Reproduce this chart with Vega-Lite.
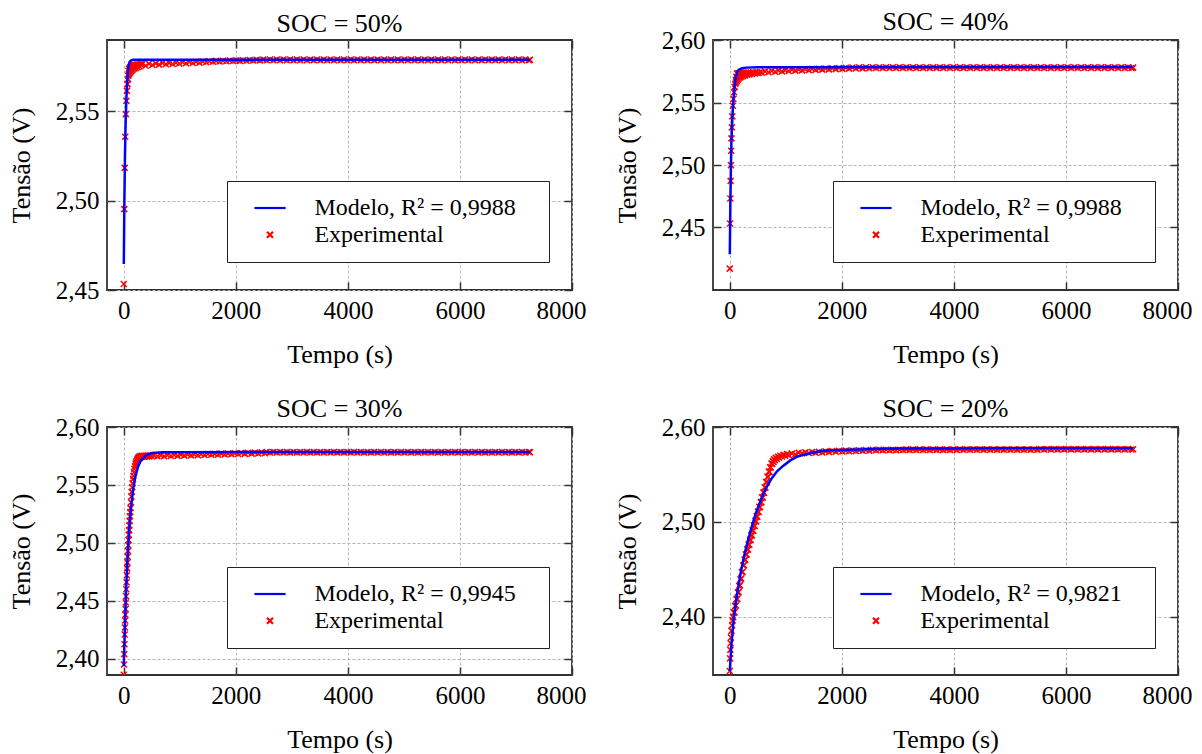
{
"$schema": "https://vega.github.io/schema/vega-lite/v6.json",
"background": "white",
"padding": {"left": 7, "top": 8, "right": 5, "bottom": 5},
"config": {
 "font": "'Liberation Serif', 'Times New Roman', Tinos, 'DejaVu Serif', serif",
 "view": {"stroke": "#333333", "strokeWidth": 1.8},
 "axis": {"labelFont": "'Liberation Serif', 'Times New Roman', Tinos, 'DejaVu Serif', serif", "labelFontSize": 25, "labelColor": "#000", "titleFont": "'Liberation Serif', 'Times New Roman', Tinos, 'DejaVu Serif', serif", "titleFontSize": 26, "titleFontWeight": "normal", "titleColor": "#000", "grid": true, "gridColor": "#b5b5b5", "gridDash": [3, 2], "gridWidth": 1, "domain": false, "ticks": true, "tickColor": "#333", "tickWidth": 1.5, "tickSize": -8, "labelPadding": 16, "titlePadding": 18, "labelFlush": false, "labelOverlap": false},
 "axisX": {"labelFlush": true, "labelFlushOffset": 14},
 "axisY": {"titlePadding": 20.5},
 "title": {"font": "'Liberation Serif', 'Times New Roman', Tinos, 'DejaVu Serif', serif", "fontSize": 26, "fontWeight": "normal", "color": "#000", "anchor": "middle", "offset": 2},
 "legend": {"padding": 15, "symbolOffset": 16, "labelOffset": 32.4, "labelFont": "'Liberation Serif', 'Times New Roman', Tinos, 'DejaVu Serif', serif", "labelFontSize": 24, "labelColor": "#000", "strokeColor": "#222", "fillColor": "#fff", "rowPadding": 2.7, "symbolSize": 36, "symbolStrokeWidth": 2.2, "labelLimit": 400}
},
"datasets": {
 "e1": [
  {"t":0,"v":2.4534,"s":"E"},{"t":8,"v":2.4953,"s":"E"},{"t":16,"v":2.5184,"s":"E"},{"t":26,"v":2.5358,"s":"E"},{"t":36,"v":2.5485,"s":"E"},{"t":46,"v":2.5559,"s":"E"},{"t":56,"v":2.5615,"s":"E"},{"t":66,"v":2.5653,"s":"E"},{"t":76,"v":2.5681,"s":"E"},
  {"t":80,"v":2.5700,"s":"E"},{"t":85,"v":2.5728,"s":"E"},{"t":90,"v":2.5708,"s":"E"},{"t":96,"v":2.5738,"s":"E"},{"t":102,"v":2.5714,"s":"E"},{"t":108,"v":2.5744,"s":"E"},{"t":115,"v":2.5720,"s":"E"},{"t":122,"v":2.5749,"s":"E"},{"t":130,"v":2.5726,"s":"E"},{"t":138,"v":2.5753,"s":"E"},{"t":147,"v":2.5731,"s":"E"},{"t":156,"v":2.5756,"s":"E"},{"t":166,"v":2.5736,"s":"E"},{"t":176,"v":2.5758,"s":"E"},{"t":188,"v":2.5740,"s":"E"},{"t":200,"v":2.5760,"s":"E"},{"t":214,"v":2.5744,"s":"E"},{"t":228,"v":2.5762,"s":"E"},{"t":244,"v":2.5748,"s":"E"},{"t":260,"v":2.5764,"s":"E"},{"t":280,"v":2.5752,"s":"E"},{"t":300,"v":2.5765,"s":"E"},
  {"t":330,"v":2.5765,"s":"E"},{"t":390,"v":2.5756,"s":"E"},{"t":450,"v":2.5767,"s":"E"},{"t":510,"v":2.5760,"s":"E"},{"t":570,"v":2.5769,"s":"E"},{"t":630,"v":2.5762,"s":"E"},{"t":690,"v":2.5771,"s":"E"},{"t":750,"v":2.5764,"s":"E"},{"t":810,"v":2.5772,"s":"E"},{"t":870,"v":2.5766,"s":"E"},{"t":930,"v":2.5773,"s":"E"},{"t":990,"v":2.5768,"s":"E"},{"t":1050,"v":2.5775,"s":"E"},{"t":1110,"v":2.5770,"s":"E"},{"t":1170,"v":2.5777,"s":"E"},{"t":1230,"v":2.5771,"s":"E"},{"t":1290,"v":2.5778,"s":"E"},{"t":1350,"v":2.5773,"s":"E"},{"t":1410,"v":2.5780,"s":"E"},{"t":1470,"v":2.5775,"s":"E"},{"t":1530,"v":2.5781,"s":"E"},{"t":1590,"v":2.5778,"s":"E"},{"t":1650,"v":2.5783,"s":"E"},{"t":1710,"v":2.5780,"s":"E"},{"t":1770,"v":2.5784,"s":"E"},{"t":1830,"v":2.5781,"s":"E"},{"t":1890,"v":2.5785,"s":"E"},{"t":1950,"v":2.5782,"s":"E"},{"t":2010,"v":2.5786,"s":"E"},{"t":2070,"v":2.5783,"s":"E"},{"t":2130,"v":2.5787,"s":"E"},{"t":2190,"v":2.5784,"s":"E"},{"t":2250,"v":2.5788,"s":"E"},{"t":2310,"v":2.5785,"s":"E"},{"t":2370,"v":2.5789,"s":"E"},{"t":2430,"v":2.5786,"s":"E"},{"t":2490,"v":2.5790,"s":"E"},
  {"t":2550,"v":2.5787,"s":"E"},{"t":2610,"v":2.5791,"s":"E"},{"t":2670,"v":2.5787,"s":"E"},{"t":2730,"v":2.5791,"s":"E"},{"t":2790,"v":2.5787,"s":"E"},{"t":2850,"v":2.5791,"s":"E"},{"t":2910,"v":2.5787,"s":"E"},{"t":2970,"v":2.5791,"s":"E"},{"t":3030,"v":2.5787,"s":"E"},{"t":3090,"v":2.5791,"s":"E"},{"t":3150,"v":2.5787,"s":"E"},{"t":3210,"v":2.5791,"s":"E"},{"t":3270,"v":2.5787,"s":"E"},{"t":3330,"v":2.5791,"s":"E"},{"t":3390,"v":2.5787,"s":"E"},{"t":3450,"v":2.5791,"s":"E"},{"t":3510,"v":2.5787,"s":"E"},{"t":3570,"v":2.5791,"s":"E"},{"t":3630,"v":2.5787,"s":"E"},{"t":3690,"v":2.5791,"s":"E"},{"t":3750,"v":2.5787,"s":"E"},{"t":3810,"v":2.5791,"s":"E"},{"t":3870,"v":2.5787,"s":"E"},{"t":3930,"v":2.5791,"s":"E"},{"t":3990,"v":2.5787,"s":"E"},{"t":4050,"v":2.5791,"s":"E"},{"t":4110,"v":2.5787,"s":"E"},{"t":4170,"v":2.5791,"s":"E"},{"t":4230,"v":2.5787,"s":"E"},{"t":4290,"v":2.5791,"s":"E"},{"t":4350,"v":2.5787,"s":"E"},{"t":4410,"v":2.5791,"s":"E"},{"t":4470,"v":2.5787,"s":"E"},{"t":4530,"v":2.5791,"s":"E"},{"t":4590,"v":2.5787,"s":"E"},{"t":4650,"v":2.5791,"s":"E"},{"t":4710,"v":2.5787,"s":"E"},{"t":4770,"v":2.5791,"s":"E"},{"t":4830,"v":2.5787,"s":"E"},{"t":4890,"v":2.5791,"s":"E"},{"t":4950,"v":2.5787,"s":"E"},{"t":5010,"v":2.5791,"s":"E"},{"t":5070,"v":2.5787,"s":"E"},{"t":5130,"v":2.5791,"s":"E"},{"t":5190,"v":2.5787,"s":"E"},{"t":5250,"v":2.5791,"s":"E"},{"t":5310,"v":2.5787,"s":"E"},{"t":5370,"v":2.5791,"s":"E"},{"t":5430,"v":2.5787,"s":"E"},{"t":5490,"v":2.5791,"s":"E"},{"t":5550,"v":2.5787,"s":"E"},{"t":5610,"v":2.5791,"s":"E"},{"t":5670,"v":2.5787,"s":"E"},{"t":5730,"v":2.5791,"s":"E"},{"t":5790,"v":2.5787,"s":"E"},{"t":5850,"v":2.5791,"s":"E"},{"t":5910,"v":2.5787,"s":"E"},{"t":5970,"v":2.5791,"s":"E"},{"t":6030,"v":2.5787,"s":"E"},{"t":6090,"v":2.5791,"s":"E"},{"t":6150,"v":2.5787,"s":"E"},{"t":6210,"v":2.5791,"s":"E"},{"t":6270,"v":2.5787,"s":"E"},{"t":6330,"v":2.5791,"s":"E"},{"t":6390,"v":2.5787,"s":"E"},{"t":6450,"v":2.5791,"s":"E"},{"t":6510,"v":2.5787,"s":"E"},{"t":6570,"v":2.5791,"s":"E"},{"t":6630,"v":2.5787,"s":"E"},{"t":6690,"v":2.5791,"s":"E"},{"t":6750,"v":2.5787,"s":"E"},{"t":6810,"v":2.5791,"s":"E"},{"t":6870,"v":2.5787,"s":"E"},{"t":6930,"v":2.5791,"s":"E"},{"t":6990,"v":2.5787,"s":"E"},{"t":7050,"v":2.5791,"s":"E"},{"t":7110,"v":2.5787,"s":"E"},{"t":7170,"v":2.5791,"s":"E"},{"t":7230,"v":2.5787,"s":"E"},{"t":7250,"v":2.5789,"s":"E"}
 ],
 "m1": [
  {"t":0,"v":2.4645},{"t":10,"v":2.4994},{"t":20,"v":2.5237},{"t":30,"v":2.5405},{"t":45,"v":2.5567},{"t":60,"v":2.5660},{"t":80,"v":2.5745},{"t":100,"v":2.5775},{"t":130,"v":2.5786},{"t":170,"v":2.5789},{"t":250,"v":2.5789},{"t":7250,"v":2.5789}
 ],
 "e2": [
  {"t":0,"v":2.4171,"s":"E"},{"t":5,"v":2.4532,"s":"E"},{"t":10,"v":2.4732,"s":"E"},{"t":15,"v":2.4873,"s":"E"},{"t":20,"v":2.4999,"s":"E"},{"t":25,"v":2.5114,"s":"E"},{"t":30,"v":2.5213,"s":"E"},{"t":37,"v":2.5301,"s":"E"},{"t":45,"v":2.5389,"s":"E"},{"t":55,"v":2.5474,"s":"E"},{"t":64,"v":2.5528,"s":"E"},{"t":75,"v":2.5582,"s":"E"},{"t":85,"v":2.5625,"s":"E"},
  {"t":100,"v":2.5650,"s":"E"},{"t":106,"v":2.5680,"s":"E"},{"t":112,"v":2.5660,"s":"E"},{"t":118,"v":2.5705,"s":"E"},{"t":125,"v":2.5672,"s":"E"},{"t":131,"v":2.5731,"s":"E"},{"t":138,"v":2.5682,"s":"E"},{"t":145,"v":2.5732,"s":"E"},{"t":153,"v":2.5690,"s":"E"},{"t":161,"v":2.5734,"s":"E"},{"t":170,"v":2.5698,"s":"E"},{"t":180,"v":2.5735,"s":"E"},{"t":190,"v":2.5703,"s":"E"},{"t":200,"v":2.5736,"s":"E"},{"t":212,"v":2.5708,"s":"E"},{"t":225,"v":2.5737,"s":"E"},{"t":240,"v":2.5713,"s":"E"},{"t":255,"v":2.5737,"s":"E"},{"t":272,"v":2.5717,"s":"E"},{"t":290,"v":2.5738,"s":"E"},{"t":310,"v":2.5722,"s":"E"},{"t":330,"v":2.5739,"s":"E"},{"t":350,"v":2.5725,"s":"E"},{"t":370,"v":2.5740,"s":"E"},{"t":395,"v":2.5729,"s":"E"},{"t":420,"v":2.5741,"s":"E"},{"t":450,"v":2.5733,"s":"E"},{"t":480,"v":2.5742,"s":"E"},{"t":510,"v":2.5736,"s":"E"},{"t":540,"v":2.5744,"s":"E"},{"t":570,"v":2.5738,"s":"E"},
  {"t":630,"v":2.5748,"s":"E"},{"t":690,"v":2.5742,"s":"E"},{"t":750,"v":2.5752,"s":"E"},{"t":810,"v":2.5746,"s":"E"},{"t":870,"v":2.5756,"s":"E"},{"t":930,"v":2.5749,"s":"E"},{"t":990,"v":2.5759,"s":"E"},{"t":1050,"v":2.5752,"s":"E"},{"t":1110,"v":2.5762,"s":"E"},{"t":1170,"v":2.5755,"s":"E"},{"t":1230,"v":2.5764,"s":"E"},{"t":1290,"v":2.5757,"s":"E"},{"t":1350,"v":2.5766,"s":"E"},{"t":1410,"v":2.5759,"s":"E"},{"t":1470,"v":2.5768,"s":"E"},{"t":1530,"v":2.5761,"s":"E"},{"t":1590,"v":2.5770,"s":"E"},{"t":1650,"v":2.5763,"s":"E"},{"t":1710,"v":2.5772,"s":"E"},{"t":1770,"v":2.5765,"s":"E"},{"t":1830,"v":2.5774,"s":"E"},{"t":1890,"v":2.5767,"s":"E"},{"t":1950,"v":2.5776,"s":"E"},{"t":2010,"v":2.5769,"s":"E"},{"t":2070,"v":2.5778,"s":"E"},{"t":2130,"v":2.5771,"s":"E"},{"t":2190,"v":2.5780,"s":"E"},{"t":2250,"v":2.5772,"s":"E"},{"t":2310,"v":2.5781,"s":"E"},{"t":2370,"v":2.5773,"s":"E"},{"t":2430,"v":2.5782,"s":"E"},{"t":2490,"v":2.5774,"s":"E"},
  {"t":2550,"v":2.5782,"s":"E"},{"t":2610,"v":2.5776,"s":"E"},{"t":2670,"v":2.5782,"s":"E"},{"t":2730,"v":2.5776,"s":"E"},{"t":2790,"v":2.5782,"s":"E"},{"t":2850,"v":2.5776,"s":"E"},{"t":2910,"v":2.5782,"s":"E"},{"t":2970,"v":2.5776,"s":"E"},{"t":3030,"v":2.5782,"s":"E"},{"t":3090,"v":2.5776,"s":"E"},{"t":3150,"v":2.5782,"s":"E"},{"t":3210,"v":2.5776,"s":"E"},{"t":3270,"v":2.5782,"s":"E"},{"t":3330,"v":2.5776,"s":"E"},{"t":3390,"v":2.5782,"s":"E"},{"t":3450,"v":2.5776,"s":"E"},{"t":3510,"v":2.5782,"s":"E"},{"t":3570,"v":2.5776,"s":"E"},{"t":3630,"v":2.5782,"s":"E"},{"t":3690,"v":2.5776,"s":"E"},{"t":3750,"v":2.5782,"s":"E"},{"t":3810,"v":2.5776,"s":"E"},{"t":3870,"v":2.5782,"s":"E"},{"t":3930,"v":2.5776,"s":"E"},{"t":3990,"v":2.5782,"s":"E"},{"t":4050,"v":2.5776,"s":"E"},{"t":4110,"v":2.5782,"s":"E"},{"t":4170,"v":2.5776,"s":"E"},{"t":4230,"v":2.5782,"s":"E"},{"t":4290,"v":2.5776,"s":"E"},{"t":4350,"v":2.5782,"s":"E"},{"t":4410,"v":2.5776,"s":"E"},{"t":4470,"v":2.5782,"s":"E"},{"t":4530,"v":2.5776,"s":"E"},{"t":4590,"v":2.5782,"s":"E"},{"t":4650,"v":2.5776,"s":"E"},{"t":4710,"v":2.5782,"s":"E"},{"t":4770,"v":2.5776,"s":"E"},{"t":4830,"v":2.5782,"s":"E"},{"t":4890,"v":2.5776,"s":"E"},{"t":4950,"v":2.5782,"s":"E"},{"t":5010,"v":2.5776,"s":"E"},{"t":5070,"v":2.5782,"s":"E"},{"t":5130,"v":2.5776,"s":"E"},{"t":5190,"v":2.5782,"s":"E"},{"t":5250,"v":2.5776,"s":"E"},{"t":5310,"v":2.5782,"s":"E"},{"t":5370,"v":2.5776,"s":"E"},{"t":5430,"v":2.5782,"s":"E"},{"t":5490,"v":2.5776,"s":"E"},{"t":5550,"v":2.5782,"s":"E"},{"t":5610,"v":2.5776,"s":"E"},{"t":5670,"v":2.5782,"s":"E"},{"t":5730,"v":2.5776,"s":"E"},{"t":5790,"v":2.5782,"s":"E"},{"t":5850,"v":2.5776,"s":"E"},{"t":5910,"v":2.5782,"s":"E"},{"t":5970,"v":2.5776,"s":"E"},{"t":6030,"v":2.5782,"s":"E"},{"t":6090,"v":2.5776,"s":"E"},{"t":6150,"v":2.5782,"s":"E"},{"t":6210,"v":2.5776,"s":"E"},{"t":6270,"v":2.5782,"s":"E"},{"t":6330,"v":2.5776,"s":"E"},{"t":6390,"v":2.5782,"s":"E"},{"t":6450,"v":2.5776,"s":"E"},{"t":6510,"v":2.5782,"s":"E"},{"t":6570,"v":2.5776,"s":"E"},{"t":6630,"v":2.5782,"s":"E"},{"t":6690,"v":2.5776,"s":"E"},{"t":6750,"v":2.5782,"s":"E"},{"t":6810,"v":2.5776,"s":"E"},{"t":6870,"v":2.5782,"s":"E"},{"t":6930,"v":2.5776,"s":"E"},{"t":6990,"v":2.5782,"s":"E"},{"t":7050,"v":2.5776,"s":"E"},{"t":7110,"v":2.5782,"s":"E"},{"t":7170,"v":2.5776,"s":"E"},{"t":7200,"v":2.5779,"s":"E"}
 ],
 "m2": [
  {"t":0,"v":2.4286},{"t":10,"v":2.4695},{"t":20,"v":2.4996},{"t":30,"v":2.5207},{"t":45,"v":2.5373},{"t":55,"v":2.5455},{"t":71,"v":2.5555},{"t":90,"v":2.5652},{"t":110,"v":2.5709},{"t":131,"v":2.5742},{"t":160,"v":2.5762},{"t":220,"v":2.5774},{"t":300,"v":2.5779},{"t":500,"v":2.5782},{"t":7200,"v":2.5784}
 ],
 "e3": [
  {"t":0,"v":2.3862,"s":"E"},{"t":4,"v":2.3950,"s":"E"},{"t":8,"v":2.4040,"s":"E"},{"t":12,"v":2.4125,"s":"E"},{"t":16,"v":2.4210,"s":"E"},{"t":20,"v":2.4270,"s":"E"},{"t":24,"v":2.4330,"s":"E"},{"t":28,"v":2.4380,"s":"E"},{"t":32,"v":2.4430,"s":"E"},{"t":36,"v":2.4485,"s":"E"},{"t":40,"v":2.4540,"s":"E"},{"t":45,"v":2.4600,"s":"E"},{"t":50,"v":2.4660,"s":"E"},{"t":55,"v":2.4720,"s":"E"},{"t":60,"v":2.4780,"s":"E"},{"t":65,"v":2.4830,"s":"E"},{"t":70,"v":2.4880,"s":"E"},{"t":75,"v":2.4930,"s":"E"},{"t":80,"v":2.4980,"s":"E"},{"t":85,"v":2.5025,"s":"E"},{"t":90,"v":2.5070,"s":"E"},{"t":95,"v":2.5110,"s":"E"},{"t":100,"v":2.5150,"s":"E"},{"t":105,"v":2.5190,"s":"E"},{"t":110,"v":2.5230,"s":"E"},{"t":115,"v":2.5265,"s":"E"},{"t":120,"v":2.5300,"s":"E"},{"t":127,"v":2.5350,"s":"E"},{"t":135,"v":2.5400,"s":"E"},{"t":142,"v":2.5440,"s":"E"},{"t":150,"v":2.5480,"s":"E"},{"t":157,"v":2.5515,"s":"E"},{"t":165,"v":2.5550,"s":"E"},{"t":172,"v":2.5580,"s":"E"},{"t":180,"v":2.5610,"s":"E"},{"t":190,"v":2.5638,"s":"E"},{"t":200,"v":2.5660,"s":"E"},{"t":210,"v":2.5680,"s":"E"},{"t":220,"v":2.5695,"s":"E"},{"t":230,"v":2.5707,"s":"E"},{"t":240,"v":2.5718,"s":"E"},{"t":250,"v":2.5727,"s":"E"},
  {"t":260,"v":2.5735,"s":"E"},{"t":272,"v":2.5744,"s":"E"},{"t":285,"v":2.5740,"s":"E"},{"t":298,"v":2.5749,"s":"E"},{"t":312,"v":2.5741,"s":"E"},{"t":326,"v":2.5751,"s":"E"},{"t":340,"v":2.5743,"s":"E"},{"t":355,"v":2.5752,"s":"E"},{"t":370,"v":2.5744,"s":"E"},{"t":390,"v":2.5753,"s":"E"},{"t":410,"v":2.5745,"s":"E"},{"t":430,"v":2.5754,"s":"E"},{"t":450,"v":2.5746,"s":"E"},{"t":475,"v":2.5754,"s":"E"},{"t":500,"v":2.5747,"s":"E"},
  {"t":540,"v":2.5754,"s":"E"},{"t":600,"v":2.5747,"s":"E"},{"t":660,"v":2.5755,"s":"E"},{"t":720,"v":2.5748,"s":"E"},{"t":780,"v":2.5757,"s":"E"},{"t":840,"v":2.5749,"s":"E"},{"t":900,"v":2.5758,"s":"E"},{"t":960,"v":2.5751,"s":"E"},{"t":1020,"v":2.5760,"s":"E"},{"t":1080,"v":2.5753,"s":"E"},{"t":1140,"v":2.5762,"s":"E"},{"t":1200,"v":2.5755,"s":"E"},{"t":1260,"v":2.5763,"s":"E"},{"t":1320,"v":2.5756,"s":"E"},{"t":1380,"v":2.5765,"s":"E"},{"t":1440,"v":2.5758,"s":"E"},{"t":1500,"v":2.5767,"s":"E"},{"t":1560,"v":2.5760,"s":"E"},{"t":1620,"v":2.5768,"s":"E"},{"t":1680,"v":2.5761,"s":"E"},{"t":1740,"v":2.5770,"s":"E"},{"t":1800,"v":2.5763,"s":"E"},{"t":1860,"v":2.5772,"s":"E"},{"t":1920,"v":2.5765,"s":"E"},{"t":1980,"v":2.5774,"s":"E"},{"t":2040,"v":2.5767,"s":"E"},{"t":2100,"v":2.5776,"s":"E"},{"t":2160,"v":2.5768,"s":"E"},{"t":2220,"v":2.5777,"s":"E"},{"t":2280,"v":2.5770,"s":"E"},{"t":2340,"v":2.5779,"s":"E"},{"t":2400,"v":2.5772,"s":"E"},{"t":2460,"v":2.5781,"s":"E"},{"t":2520,"v":2.5774,"s":"E"},
  {"t":2550,"v":2.5784,"s":"E"},{"t":2610,"v":2.5780,"s":"E"},{"t":2670,"v":2.5784,"s":"E"},{"t":2730,"v":2.5780,"s":"E"},{"t":2790,"v":2.5784,"s":"E"},{"t":2850,"v":2.5780,"s":"E"},{"t":2910,"v":2.5784,"s":"E"},{"t":2970,"v":2.5780,"s":"E"},{"t":3030,"v":2.5784,"s":"E"},{"t":3090,"v":2.5780,"s":"E"},{"t":3150,"v":2.5784,"s":"E"},{"t":3210,"v":2.5780,"s":"E"},{"t":3270,"v":2.5784,"s":"E"},{"t":3330,"v":2.5780,"s":"E"},{"t":3390,"v":2.5784,"s":"E"},{"t":3450,"v":2.5780,"s":"E"},{"t":3510,"v":2.5784,"s":"E"},{"t":3570,"v":2.5780,"s":"E"},{"t":3630,"v":2.5784,"s":"E"},{"t":3690,"v":2.5780,"s":"E"},{"t":3750,"v":2.5784,"s":"E"},{"t":3810,"v":2.5780,"s":"E"},{"t":3870,"v":2.5784,"s":"E"},{"t":3930,"v":2.5780,"s":"E"},{"t":3990,"v":2.5784,"s":"E"},{"t":4050,"v":2.5780,"s":"E"},{"t":4110,"v":2.5784,"s":"E"},{"t":4170,"v":2.5780,"s":"E"},{"t":4230,"v":2.5784,"s":"E"},{"t":4290,"v":2.5780,"s":"E"},{"t":4350,"v":2.5784,"s":"E"},{"t":4410,"v":2.5780,"s":"E"},{"t":4470,"v":2.5784,"s":"E"},{"t":4530,"v":2.5780,"s":"E"},{"t":4590,"v":2.5784,"s":"E"},{"t":4650,"v":2.5780,"s":"E"},{"t":4710,"v":2.5784,"s":"E"},{"t":4770,"v":2.5780,"s":"E"},{"t":4830,"v":2.5784,"s":"E"},{"t":4890,"v":2.5780,"s":"E"},{"t":4950,"v":2.5784,"s":"E"},{"t":5010,"v":2.5780,"s":"E"},{"t":5070,"v":2.5784,"s":"E"},{"t":5130,"v":2.5780,"s":"E"},{"t":5190,"v":2.5784,"s":"E"},{"t":5250,"v":2.5780,"s":"E"},{"t":5310,"v":2.5784,"s":"E"},{"t":5370,"v":2.5780,"s":"E"},{"t":5430,"v":2.5784,"s":"E"},{"t":5490,"v":2.5780,"s":"E"},{"t":5550,"v":2.5784,"s":"E"},{"t":5610,"v":2.5780,"s":"E"},{"t":5670,"v":2.5784,"s":"E"},{"t":5730,"v":2.5780,"s":"E"},{"t":5790,"v":2.5784,"s":"E"},{"t":5850,"v":2.5780,"s":"E"},{"t":5910,"v":2.5784,"s":"E"},{"t":5970,"v":2.5780,"s":"E"},{"t":6030,"v":2.5784,"s":"E"},{"t":6090,"v":2.5780,"s":"E"},{"t":6150,"v":2.5784,"s":"E"},{"t":6210,"v":2.5780,"s":"E"},{"t":6270,"v":2.5784,"s":"E"},{"t":6330,"v":2.5780,"s":"E"},{"t":6390,"v":2.5784,"s":"E"},{"t":6450,"v":2.5780,"s":"E"},{"t":6510,"v":2.5784,"s":"E"},{"t":6570,"v":2.5780,"s":"E"},{"t":6630,"v":2.5784,"s":"E"},{"t":6690,"v":2.5780,"s":"E"},{"t":6750,"v":2.5784,"s":"E"},{"t":6810,"v":2.5780,"s":"E"},{"t":6870,"v":2.5784,"s":"E"},{"t":6930,"v":2.5780,"s":"E"},{"t":6990,"v":2.5784,"s":"E"},{"t":7050,"v":2.5780,"s":"E"},{"t":7110,"v":2.5784,"s":"E"},{"t":7170,"v":2.5780,"s":"E"},{"t":7230,"v":2.5784,"s":"E"},{"t":7250,"v":2.5782,"s":"E"}
 ],
 "m3": [
  {"t":0,"v":2.3936},{"t":20,"v":2.4287},{"t":40,"v":2.4572},{"t":60,"v":2.4802},{"t":80,"v":2.4988},{"t":100,"v":2.5140},{"t":130,"v":2.5314},{"t":160,"v":2.5442},{"t":200,"v":2.5560},{"t":250,"v":2.5652},{"t":300,"v":2.5706},{"t":400,"v":2.5758},{"t":500,"v":2.5775},{"t":700,"v":2.5782},{"t":1000,"v":2.5783},{"t":7250,"v":2.5784}
 ],
 "e4": [
  {"t":0,"v":2.3427,"s":"E"},{"t":5,"v":2.3560,"s":"E"},{"t":10,"v":2.3650,"s":"E"},{"t":15,"v":2.3720,"s":"E"},{"t":20,"v":2.3780,"s":"E"},{"t":30,"v":2.3850,"s":"E"},{"t":40,"v":2.3910,"s":"E"},{"t":50,"v":2.3960,"s":"E"},{"t":60,"v":2.3995,"s":"E"},
  {"t":72,"v":2.4042,"s":"E"},{"t":84,"v":2.4047,"s":"E"},{"t":96,"v":2.4112,"s":"E"},{"t":108,"v":2.4118,"s":"E"},{"t":120,"v":2.4183,"s":"E"},{"t":132,"v":2.4188,"s":"E"},{"t":144,"v":2.4254,"s":"E"},{"t":156,"v":2.4259,"s":"E"},{"t":168,"v":2.4325,"s":"E"},{"t":180,"v":2.4330,"s":"E"},{"t":192,"v":2.4396,"s":"E"},{"t":204,"v":2.4402,"s":"E"},{"t":216,"v":2.4468,"s":"E"},{"t":228,"v":2.4473,"s":"E"},{"t":240,"v":2.4539,"s":"E"},{"t":252,"v":2.4543,"s":"E"},{"t":264,"v":2.4601,"s":"E"},{"t":276,"v":2.4599,"s":"E"},{"t":288,"v":2.4657,"s":"E"},{"t":300,"v":2.4655,"s":"E"},{"t":312,"v":2.4712,"s":"E"},{"t":324,"v":2.4707,"s":"E"},{"t":336,"v":2.4762,"s":"E"},{"t":348,"v":2.4757,"s":"E"},{"t":360,"v":2.4812,"s":"E"},{"t":372,"v":2.4807,"s":"E"},{"t":384,"v":2.4862,"s":"E"},{"t":396,"v":2.4857,"s":"E"},{"t":408,"v":2.4912,"s":"E"},{"t":420,"v":2.4907,"s":"E"},{"t":432,"v":2.4962,"s":"E"},{"t":444,"v":2.4957,"s":"E"},{"t":456,"v":2.5011,"s":"E"},{"t":468,"v":2.5005,"s":"E"},{"t":480,"v":2.5060,"s":"E"},{"t":492,"v":2.5054,"s":"E"},{"t":504,"v":2.5109,"s":"E"},{"t":516,"v":2.5104,"s":"E"},{"t":528,"v":2.5159,"s":"E"},{"t":540,"v":2.5154,"s":"E"},{"t":552,"v":2.5210,"s":"E"},{"t":564,"v":2.5205,"s":"E"},{"t":576,"v":2.5260,"s":"E"},{"t":588,"v":2.5255,"s":"E"},{"t":600,"v":2.5310,"s":"E"},{"t":612,"v":2.5306,"s":"E"},{"t":624,"v":2.5364,"s":"E"},{"t":636,"v":2.5362,"s":"E"},{"t":648,"v":2.5420,"s":"E"},{"t":660,"v":2.5418,"s":"E"},{"t":672,"v":2.5476,"s":"E"},{"t":684,"v":2.5473,"s":"E"},{"t":696,"v":2.5530,"s":"E"},{"t":708,"v":2.5527,"s":"E"},{"t":720,"v":2.5576,"s":"E"},{"t":732,"v":2.5572,"s":"E"},{"t":744,"v":2.5616,"s":"E"},{"t":756,"v":2.5611,"s":"E"},{"t":768,"v":2.5642,"s":"E"},{"t":780,"v":2.5631,"s":"E"},{"t":792,"v":2.5660,"s":"E"},{"t":804,"v":2.5649,"s":"E"},{"t":820,"v":2.5676,"s":"E"},{"t":840,"v":2.5664,"s":"E"},{"t":860,"v":2.5686,"s":"E"},{"t":880,"v":2.5677,"s":"E"},{"t":900,"v":2.5697,"s":"E"},{"t":930,"v":2.5688,"s":"E"},{"t":960,"v":2.5706,"s":"E"},{"t":990,"v":2.5698,"s":"E"},{"t":1021,"v":2.5714,"s":"E"},{"t":1050,"v":2.5704,"s":"E"},{"t":1110,"v":2.5721,"s":"E"},{"t":1170,"v":2.5713,"s":"E"},{"t":1230,"v":2.5729,"s":"E"},{"t":1290,"v":2.5722,"s":"E"},{"t":1350,"v":2.5734,"s":"E"},{"t":1410,"v":2.5725,"s":"E"},{"t":1470,"v":2.5737,"s":"E"},{"t":1530,"v":2.5729,"s":"E"},{"t":1590,"v":2.5740,"s":"E"},{"t":1650,"v":2.5732,"s":"E"},{"t":1710,"v":2.5743,"s":"E"},{"t":1770,"v":2.5737,"s":"E"},{"t":1830,"v":2.5746,"s":"E"},{"t":1890,"v":2.5740,"s":"E"},{"t":1950,"v":2.5749,"s":"E"},{"t":2010,"v":2.5742,"s":"E"},{"t":2070,"v":2.5751,"s":"E"},{"t":2130,"v":2.5744,"s":"E"},{"t":2190,"v":2.5753,"s":"E"},{"t":2250,"v":2.5746,"s":"E"},{"t":2310,"v":2.5755,"s":"E"},{"t":2370,"v":2.5749,"s":"E"},{"t":2430,"v":2.5758,"s":"E"},{"t":2490,"v":2.5750,"s":"E"},
  {"t":2550,"v":2.5760,"s":"E"},{"t":2610,"v":2.5754,"s":"E"},{"t":2670,"v":2.5760,"s":"E"},{"t":2730,"v":2.5754,"s":"E"},{"t":2790,"v":2.5760,"s":"E"},{"t":2850,"v":2.5754,"s":"E"},{"t":2910,"v":2.5760,"s":"E"},{"t":2970,"v":2.5754,"s":"E"},{"t":3030,"v":2.5760,"s":"E"},{"t":3090,"v":2.5758,"s":"E"},{"t":3150,"v":2.5764,"s":"E"},{"t":3210,"v":2.5758,"s":"E"},{"t":3270,"v":2.5764,"s":"E"},{"t":3330,"v":2.5758,"s":"E"},{"t":3390,"v":2.5764,"s":"E"},{"t":3450,"v":2.5758,"s":"E"},{"t":3510,"v":2.5764,"s":"E"},{"t":3570,"v":2.5758,"s":"E"},{"t":3630,"v":2.5764,"s":"E"},{"t":3690,"v":2.5758,"s":"E"},{"t":3750,"v":2.5764,"s":"E"},{"t":3810,"v":2.5758,"s":"E"},{"t":3870,"v":2.5764,"s":"E"},{"t":3930,"v":2.5758,"s":"E"},{"t":3990,"v":2.5764,"s":"E"},{"t":4050,"v":2.5758,"s":"E"},{"t":4110,"v":2.5766,"s":"E"},{"t":4170,"v":2.5760,"s":"E"},{"t":4230,"v":2.5766,"s":"E"},{"t":4290,"v":2.5760,"s":"E"},{"t":4350,"v":2.5766,"s":"E"},{"t":4410,"v":2.5760,"s":"E"},{"t":4470,"v":2.5766,"s":"E"},{"t":4530,"v":2.5760,"s":"E"},{"t":4590,"v":2.5766,"s":"E"},{"t":4650,"v":2.5760,"s":"E"},{"t":4710,"v":2.5766,"s":"E"},{"t":4770,"v":2.5760,"s":"E"},{"t":4830,"v":2.5766,"s":"E"},{"t":4890,"v":2.5760,"s":"E"},{"t":4950,"v":2.5766,"s":"E"},{"t":5010,"v":2.5760,"s":"E"},{"t":5070,"v":2.5766,"s":"E"},{"t":5130,"v":2.5760,"s":"E"},{"t":5190,"v":2.5766,"s":"E"},{"t":5250,"v":2.5760,"s":"E"},{"t":5310,"v":2.5766,"s":"E"},{"t":5370,"v":2.5760,"s":"E"},{"t":5430,"v":2.5766,"s":"E"},{"t":5490,"v":2.5760,"s":"E"},{"t":5550,"v":2.5768,"s":"E"},{"t":5610,"v":2.5762,"s":"E"},{"t":5670,"v":2.5768,"s":"E"},{"t":5730,"v":2.5762,"s":"E"},{"t":5790,"v":2.5768,"s":"E"},{"t":5850,"v":2.5762,"s":"E"},{"t":5910,"v":2.5768,"s":"E"},{"t":5970,"v":2.5762,"s":"E"},{"t":6030,"v":2.5768,"s":"E"},{"t":6090,"v":2.5762,"s":"E"},{"t":6150,"v":2.5768,"s":"E"},{"t":6210,"v":2.5762,"s":"E"},{"t":6270,"v":2.5768,"s":"E"},{"t":6330,"v":2.5762,"s":"E"},{"t":6390,"v":2.5768,"s":"E"},{"t":6450,"v":2.5762,"s":"E"},{"t":6510,"v":2.5768,"s":"E"},{"t":6570,"v":2.5762,"s":"E"},{"t":6630,"v":2.5768,"s":"E"},{"t":6690,"v":2.5762,"s":"E"},{"t":6750,"v":2.5768,"s":"E"},{"t":6810,"v":2.5762,"s":"E"},{"t":6870,"v":2.5768,"s":"E"},{"t":6930,"v":2.5762,"s":"E"},{"t":6990,"v":2.5768,"s":"E"},{"t":7050,"v":2.5762,"s":"E"},{"t":7110,"v":2.5768,"s":"E"},{"t":7170,"v":2.5762,"s":"E"},{"t":7200,"v":2.5766,"s":"E"}
 ],
 "m4": [
  {"t":0,"v":2.3427},{"t":30,"v":2.3720},{"t":71,"v":2.3990},{"t":110,"v":2.4160},{"t":160,"v":2.4340},{"t":200,"v":2.4480},{"t":249,"v":2.4621},{"t":300,"v":2.4750},{"t":368,"v":2.4901},{"t":457,"v":2.5077},{"t":546,"v":2.5217},{"t":600,"v":2.5300},{"t":665,"v":2.5375},{"t":750,"v":2.5460},{"t":843,"v":2.5533},{"t":950,"v":2.5590},{"t":1080,"v":2.5648},{"t":1200,"v":2.5688},{"t":1377,"v":2.5716},{"t":1550,"v":2.5738},{"t":1733,"v":2.5751},{"t":2148,"v":2.5761},{"t":2600,"v":2.5767},{"t":3037,"v":2.5772},{"t":4000,"v":2.5774},{"t":5000,"v":2.5775},{"t":7200,"v":2.5776}
 ]
},
"columns": 2,
"spacing": {"row": 137, "column": 141},
"bounds": "flush",
"resolve": {"scale": {"x": "independent", "y": "independent", "color": "independent", "shape": "independent"}, "legend": {"color": "independent", "shape": "independent"}},
"concat": [
 {
  "title": {"text": "SOC = 50%"},
  "width": 465, "height": 250,
  "resolve": {"axis": {"x": "independent", "y": "independent"}},
  "layer": [
   {"data": {"name": "e1"},
    "mark": {"type": "point", "filled": false, "opacity": 1, "strokeWidth": 1.5, "size": 36, "clip": true},
    "encoding": {
     "x": {"field": "t", "type": "quantitative", "scale": {"domain": [-300, 8000], "nice": false, "zero": false}, "axis": {"title": "Tempo (s)", "values": [0, 2000, 4000, 6000, 8000], "format": "d"}},
     "y": {"field": "v", "type": "quantitative", "scale": {"domain": [2.45, 2.59], "nice": false, "zero": false}, "axis": {"title": "Tensão (V)", "values": [2.45, 2.5, 2.55], "labelExpr": "replace(format(datum.value, '.2f'), '.', ',')"}},
     "color": {"field": "s", "type": "nominal", "scale": {"domain": ["M", "E"], "range": ["#0000ff", "#ff0000"]}, "legend": {"orient": "none", "legendX": 120, "legendY": 141, "title": null, "labelExpr": "datum.label == 'M' ? 'Modelo, R² = 0,9988\u2800' : 'Experimental'"}},
     "shape": {"field": "s", "type": "nominal", "scale": {"domain": ["M", "E"], "range": ["M-5.2,0L5.2,0", "M-1,-1L1,1M-1,1L1,-1"]}, "legend": {"orient": "none", "legendX": 120, "legendY": 141, "title": null, "labelExpr": "datum.label == 'M' ? 'Modelo, R² = 0,9988\u2800' : 'Experimental'"}}
    }},
   {"data": {"name": "m1"},
    "mark": {"type": "line", "color": "#0000ff", "strokeWidth": 2.5, "clip": true},
    "encoding": {
     "x": {"field": "t", "type": "quantitative", "scale": {"domain": [-300, 8000], "nice": false, "zero": false}, "axis": {"orient": "top", "title": null, "labels": false, "grid": false, "values": [0, 2000, 4000, 6000, 8000]}},
     "y": {"field": "v", "type": "quantitative", "scale": {"domain": [2.45, 2.59], "nice": false, "zero": false}, "axis": {"orient": "right", "title": null, "labels": false, "grid": false, "values": [2.45, 2.5, 2.55]}}
    }}
  ]
 },
 {
  "title": {"text": "SOC = 40%", "offset": -7},
  "width": 465, "height": 250,
  "resolve": {"axis": {"x": "independent", "y": "independent"}},
  "layer": [
   {"data": {"name": "e2"},
    "mark": {"type": "point", "filled": false, "opacity": 1, "strokeWidth": 1.5, "size": 36, "clip": true},
    "encoding": {
     "x": {"field": "t", "type": "quantitative", "scale": {"domain": [-300, 8000], "nice": false, "zero": false}, "axis": {"title": "Tempo (s)", "values": [0, 2000, 4000, 6000, 8000], "format": "d"}},
     "y": {"field": "v", "type": "quantitative", "scale": {"domain": [2.4, 2.6], "nice": false, "zero": false}, "axis": {"title": "Tensão (V)", "values": [2.45, 2.5, 2.55, 2.6], "labelExpr": "replace(format(datum.value, '.2f'), '.', ',')"}},
     "color": {"field": "s", "type": "nominal", "scale": {"domain": ["M", "E"], "range": ["#0000ff", "#ff0000"]}, "legend": {"orient": "none", "legendX": 120, "legendY": 141, "title": null, "labelExpr": "datum.label == 'M' ? 'Modelo, R² = 0,9988\u2800' : 'Experimental'"}},
     "shape": {"field": "s", "type": "nominal", "scale": {"domain": ["M", "E"], "range": ["M-5.2,0L5.2,0", "M-1,-1L1,1M-1,1L1,-1"]}, "legend": {"orient": "none", "legendX": 120, "legendY": 141, "title": null, "labelExpr": "datum.label == 'M' ? 'Modelo, R² = 0,9988\u2800' : 'Experimental'"}}
    }},
   {"data": {"name": "m2"},
    "mark": {"type": "line", "color": "#0000ff", "strokeWidth": 2.5, "clip": true},
    "encoding": {
     "x": {"field": "t", "type": "quantitative", "scale": {"domain": [-300, 8000], "nice": false, "zero": false}, "axis": {"orient": "top", "title": null, "labels": false, "grid": false, "values": [0, 2000, 4000, 6000, 8000]}},
     "y": {"field": "v", "type": "quantitative", "scale": {"domain": [2.4, 2.6], "nice": false, "zero": false}, "axis": {"orient": "right", "title": null, "labels": false, "grid": false, "values": [2.45, 2.5, 2.55, 2.6]}}
    }}
  ]
 },
 {
  "title": {"text": "SOC = 30%", "offset": -7},
  "width": 465, "height": 248,
  "resolve": {"axis": {"x": "independent", "y": "independent"}},
  "layer": [
   {"data": {"name": "e3"},
    "mark": {"type": "point", "filled": false, "opacity": 1, "strokeWidth": 1.5, "size": 36, "clip": true},
    "encoding": {
     "x": {"field": "t", "type": "quantitative", "scale": {"domain": [-300, 8000], "nice": false, "zero": false}, "axis": {"title": "Tempo (s)", "values": [0, 2000, 4000, 6000, 8000], "format": "d"}},
     "y": {"field": "v", "type": "quantitative", "scale": {"domain": [2.386, 2.6], "nice": false, "zero": false}, "axis": {"title": "Tensão (V)", "values": [2.4, 2.45, 2.5, 2.55, 2.6], "labelExpr": "replace(format(datum.value, '.2f'), '.', ',')"}},
     "color": {"field": "s", "type": "nominal", "scale": {"domain": ["M", "E"], "range": ["#0000ff", "#ff0000"]}, "legend": {"orient": "none", "legendX": 120, "legendY": 140, "title": null, "labelExpr": "datum.label == 'M' ? 'Modelo, R² = 0,9945\u2800' : 'Experimental'"}},
     "shape": {"field": "s", "type": "nominal", "scale": {"domain": ["M", "E"], "range": ["M-5.2,0L5.2,0", "M-1,-1L1,1M-1,1L1,-1"]}, "legend": {"orient": "none", "legendX": 120, "legendY": 140, "title": null, "labelExpr": "datum.label == 'M' ? 'Modelo, R² = 0,9945\u2800' : 'Experimental'"}}
    }},
   {"data": {"name": "m3"},
    "mark": {"type": "line", "color": "#0000ff", "strokeWidth": 2.5, "clip": true},
    "encoding": {
     "x": {"field": "t", "type": "quantitative", "scale": {"domain": [-300, 8000], "nice": false, "zero": false}, "axis": {"orient": "top", "title": null, "labels": false, "grid": false, "values": [0, 2000, 4000, 6000, 8000]}},
     "y": {"field": "v", "type": "quantitative", "scale": {"domain": [2.386, 2.6], "nice": false, "zero": false}, "axis": {"orient": "right", "title": null, "labels": false, "grid": false, "values": [2.4, 2.45, 2.5, 2.55, 2.6]}}
    }}
  ]
 },
 {
  "title": {"text": "SOC = 20%", "offset": -7},
  "width": 465, "height": 248,
  "resolve": {"axis": {"x": "independent", "y": "independent"}},
  "layer": [
   {"data": {"name": "e4"},
    "mark": {"type": "point", "filled": false, "opacity": 1, "strokeWidth": 1.5, "size": 36, "clip": true},
    "encoding": {
     "x": {"field": "t", "type": "quantitative", "scale": {"domain": [-300, 8000], "nice": false, "zero": false}, "axis": {"title": "Tempo (s)", "values": [0, 2000, 4000, 6000, 8000], "format": "d"}},
     "y": {"field": "v", "type": "quantitative", "scale": {"domain": [2.3385, 2.6], "nice": false, "zero": false}, "axis": {"title": "Tensão (V)", "values": [2.4, 2.5, 2.6], "labelExpr": "replace(format(datum.value, '.2f'), '.', ',')"}},
     "color": {"field": "s", "type": "nominal", "scale": {"domain": ["M", "E"], "range": ["#0000ff", "#ff0000"]}, "legend": {"orient": "none", "legendX": 120, "legendY": 140, "title": null, "labelExpr": "datum.label == 'M' ? 'Modelo, R² = 0,9821\u2800' : 'Experimental'"}},
     "shape": {"field": "s", "type": "nominal", "scale": {"domain": ["M", "E"], "range": ["M-5.2,0L5.2,0", "M-1,-1L1,1M-1,1L1,-1"]}, "legend": {"orient": "none", "legendX": 120, "legendY": 140, "title": null, "labelExpr": "datum.label == 'M' ? 'Modelo, R² = 0,9821\u2800' : 'Experimental'"}}
    }},
   {"data": {"name": "m4"},
    "mark": {"type": "line", "color": "#0000ff", "strokeWidth": 2.5, "clip": true},
    "encoding": {
     "x": {"field": "t", "type": "quantitative", "scale": {"domain": [-300, 8000], "nice": false, "zero": false}, "axis": {"orient": "top", "title": null, "labels": false, "grid": false, "values": [0, 2000, 4000, 6000, 8000]}},
     "y": {"field": "v", "type": "quantitative", "scale": {"domain": [2.3385, 2.6], "nice": false, "zero": false}, "axis": {"orient": "right", "title": null, "labels": false, "grid": false, "values": [2.4, 2.5, 2.6]}}
    }}
  ]
 }
]
}
